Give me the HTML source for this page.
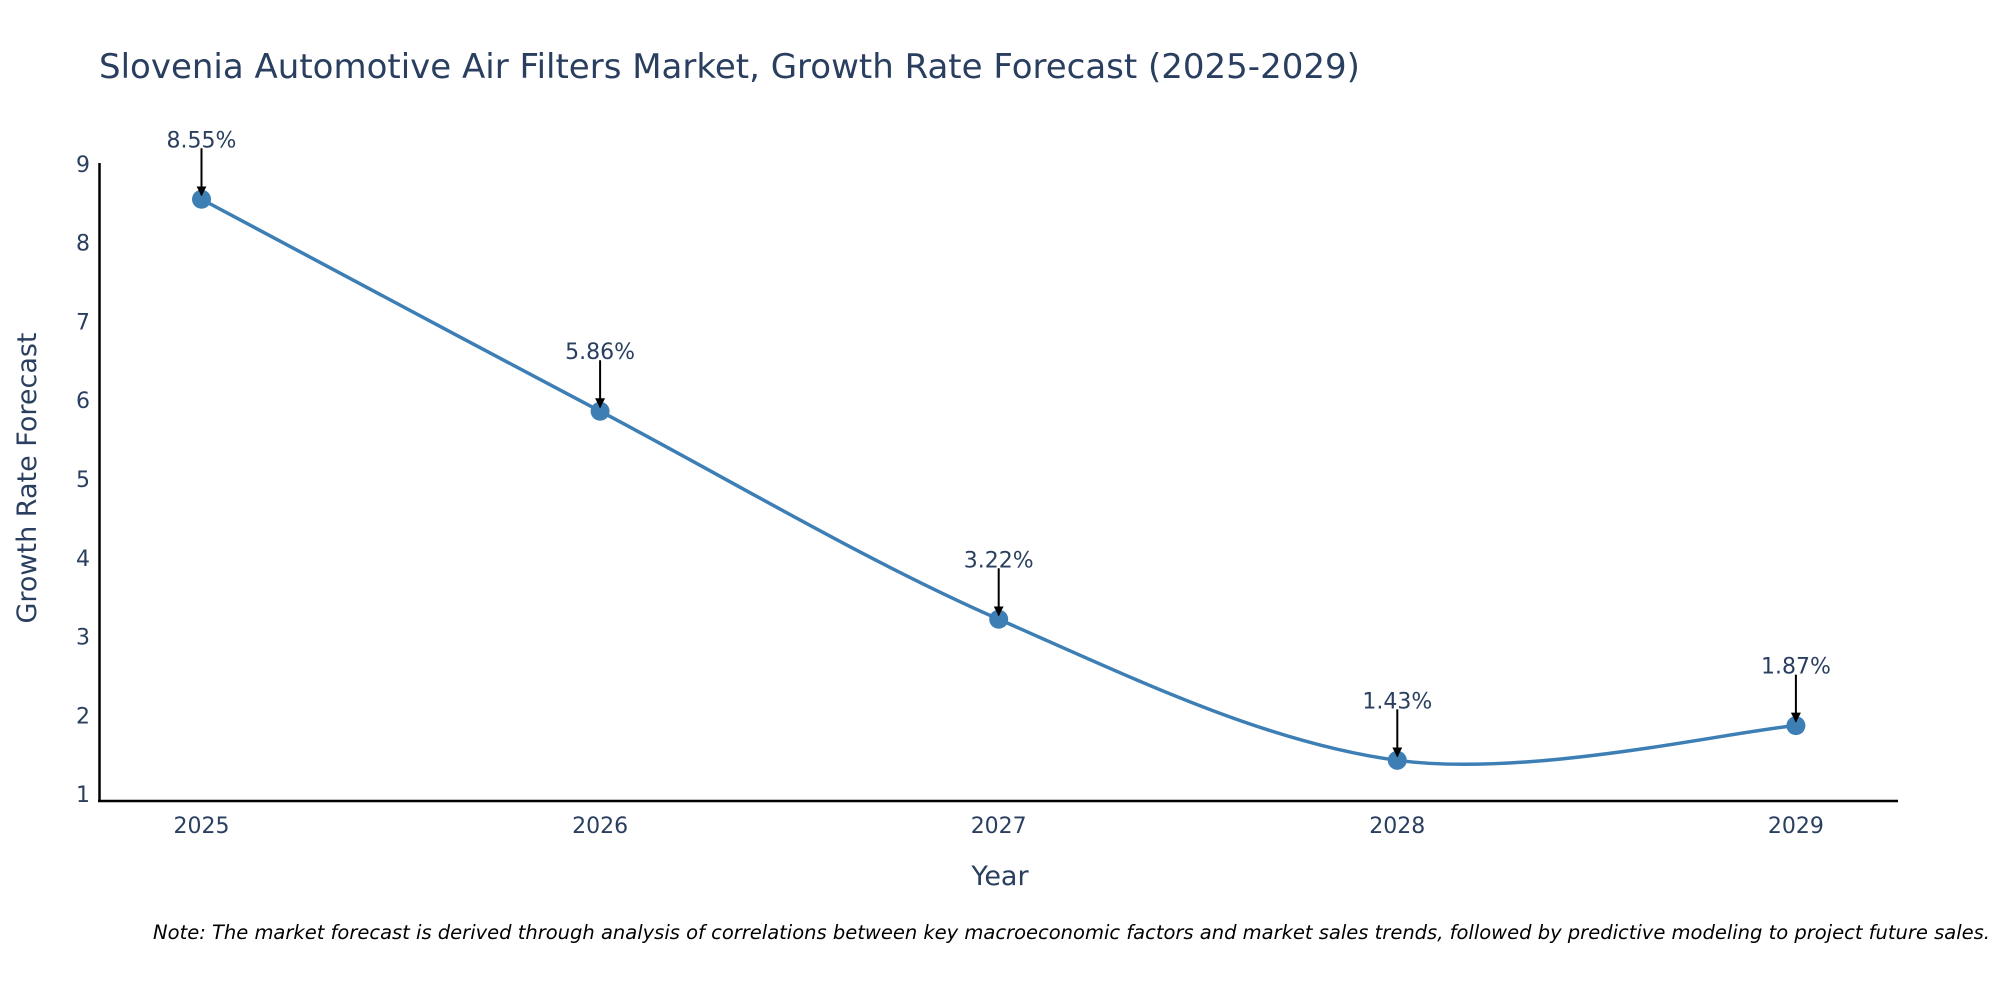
<!DOCTYPE html>
<html><head><meta charset="utf-8"><style>
body{margin:0;background:#fff}
svg text{font-family:"DejaVu Sans","Liberation Sans",sans-serif;fill:#2a3f5f}
</style></head><body>
<svg id="chart" width="2000" height="1000" xmlns="http://www.w3.org/2000/svg">
<defs><marker id="ah" viewBox="0 0 10 10" refX="9" refY="5" markerWidth="5" markerHeight="5" orient="auto"><path d="M0,0L10,5L0,10z" fill="#000"/></marker></defs>
<text x="99" y="78" font-size="34">Slovenia Automotive Air Filters Market, Growth Rate Forecast (2025-2029)</text>
<line x1="99.5" y1="163" x2="99.5" y2="802" stroke="#000" stroke-width="2.5"/>
<line x1="98" y1="801" x2="1898" y2="801" stroke="#000" stroke-width="2.5"/>
<g id="yticks"></g><g id="xticks"></g>
<text x="36" y="478" font-size="27" text-anchor="middle" transform="rotate(-90 36 478)">Growth Rate Forecast</text>
<text x="1000" y="885" font-size="27" text-anchor="middle">Year</text>
<path id="line" fill="none" stroke="#3d7fb5" stroke-width="3.5"/>
<g id="pts"></g>
<text x="1990" y="939" font-size="19.5" font-style="italic" text-anchor="end" style="fill:#000">Note: The market forecast is derived through analysis of correlations between key macroeconomic factors and market sales trends, followed by predictive modeling to project future sales.</text>
</svg>
<script>
const years=[2025,2026,2027,2028,2029];
const values=[8.55,5.86,3.22,1.43,1.87];
const labels=["8.55%","5.86%","3.22%","1.43%","1.87%"];
const yTicks=[1,2,3,4,5,6,7,8,9];
const NS="http://www.w3.org/2000/svg";
const xs=y=>201.5+(y-2025)*398.6;
const ys=v=>794.2-(v-1)*78.8;
function mk(tag,attrs,parent,txt){const e=document.createElementNS(NS,tag);for(const k in attrs)e.setAttribute(k,attrs[k]);if(txt!==undefined)e.textContent=txt;parent.appendChild(e);return e;}
const yt=document.getElementById('yticks');
yTicks.forEach(t=>{const e=mk('text',{x:90,y:ys(t)+8,'font-size':22,'text-anchor':'end'},yt,t);

});
const xt=document.getElementById('xticks');
years.forEach(t=>{const e=mk('text',{x:xs(t),y:833,'font-size':22,'text-anchor':'middle'},xt,t);

});
const P=years.map((y,i)=>[xs(y),ys(values[i])]);
let d='M'+P[0][0]+','+P[0][1];
for(let i=0;i<P.length-1;i++){const p0=P[Math.max(0,i-1)],p1=P[i],p2=P[i+1],p3=P[Math.min(P.length-1,i+2)];
const c1=[p1[0]+(p2[0]-p0[0])/6,p1[1]+(p2[1]-p0[1])/6],c2=[p2[0]-(p3[0]-p1[0])/6,p2[1]-(p3[1]-p1[1])/6];
d+=` C${c1[0]},${c1[1]} ${c2[0]},${c2[1]} ${p2[0]},${p2[1]}`;}
document.getElementById('line').setAttribute('d',d);
const g=document.getElementById('pts');
P.forEach((p,i)=>{
const c=mk('circle',{cx:p[0],cy:p[1],r:9.5,fill:'#3d7fb5'},g);


const a=mk('line',{x1:p[0],y1:p[1]-51,x2:p[0],y2:p[1]-4,stroke:'#000','stroke-width':2,'marker-end':'url(#ah)'},g);


const t=mk('text',{x:p[0],y:p[1]-52,'font-size':22,'text-anchor':'middle'},g,labels[i]);


});
</script>
</body></html>
